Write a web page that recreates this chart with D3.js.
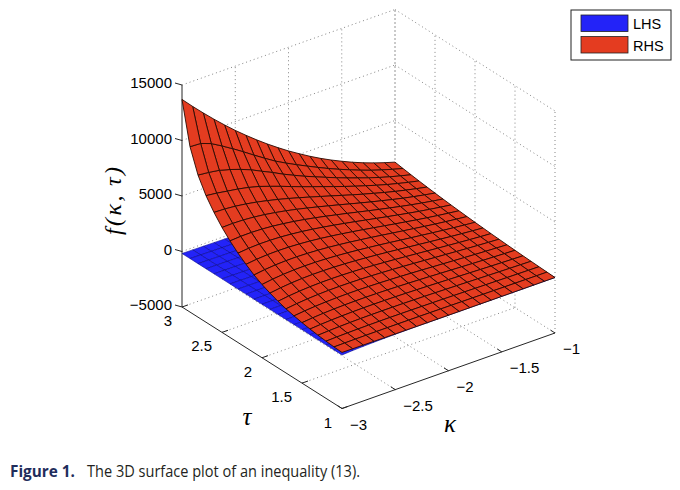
<!DOCTYPE html>
<meta charset="utf-8">
<head>
	<title>3D surface plot</title>
</head>

<style>
body { margin: 0; background: #fff; }
svg text { font-family: "Liberation Sans", Arial, sans-serif; fill: #000; }
</style>

<body>
	<svg width="680" height="490"></svg>

	<script src="https://d3js.org/d3.v7.min.js"></script>
	<script>
// grid of the surfaces
var kappa = [-3, -2.9, -2.8, -2.7, -2.6, -2.5, -2.4, -2.3, -2.2, -2.1, -2, -1.9, -1.8, -1.7, -1.6, -1.5, -1.4, -1.3, -1.2, -1.1, -1];
var tau = [1, 1.1, 1.2, 1.3, 1.4, 1.5, 1.6, 1.7, 1.8, 1.9, 2, 2.1, 2.2, 2.3, 2.4, 2.5, 2.6, 2.7, 2.8, 2.9, 3];

var zTicks = [-5000, 0, 5000, 10000, 15000];
var kappaTicks = [-3, -2.5, -2, -1.5, -1];
var tauTicks = [1, 1.5, 2, 2.5, 3];
var seriesNames = ['LHS', 'RHS'];

// rows follow tau, columns follow kappa
var rhs = [
	[50, 42, 35, 29, 23, 19, 15, 12, 9, 7, 5, 4, 3, 2, 1, 1, 0, 0, 0, 0, 0],
	[90, 103, 113, 120, 123, 124, 123, 121, 116, 111, 104, 97, 89, 81, 73, 65, 57, 49, 41, 34, 28],
	[150, 183, 209, 227, 238, 244, 245, 241, 234, 225, 212, 199, 183, 167, 150, 134, 117, 101, 86, 71, 58],
	[230, 283, 324, 352, 371, 380, 382, 377, 367, 352, 333, 312, 287, 262, 236, 210, 183, 158, 134, 112, 91],
	[330, 402, 456, 495, 519, 531, 533, 525, 510, 489, 462, 432, 398, 363, 327, 291, 254, 219, 186, 155, 126],
	[450, 540, 608, 656, 685, 699, 700, 689, 668, 639, 603, 564, 520, 473, 426, 379, 331, 285, 242, 202, 164],
	[600, 706, 785, 839, 871, 884, 883, 866, 838, 801, 755, 705, 649, 590, 531, 472, 412, 355, 301, 251, 204],
	[780, 900, 989, 1049, 1083, 1094, 1088, 1065, 1028, 980, 923, 861, 791, 719, 646, 574, 501, 431, 366, 305, 248],
	[1000, 1132, 1227, 1289, 1322, 1329, 1316, 1284, 1236, 1176, 1105, 1029, 945, 858, 770, 684, 597, 513, 436, 363, 295],
	[1280, 1417, 1514, 1573, 1601, 1599, 1576, 1531, 1469, 1394, 1307, 1215, 1114, 1010, 906, 804, 701, 603, 511, 426, 346],
	[1600, 1740, 1836, 1890, 1910, 1898, 1861, 1802, 1724, 1632, 1527, 1417, 1297, 1174, 1053, 933, 813, 699, 593, 493, 401],
	[2000, 2135, 2222, 2265, 2271, 2242, 2188, 2109, 2012, 1899, 1772, 1641, 1499, 1356, 1214, 1075, 936, 804, 682, 567, 461],
	[2500, 2617, 2684, 2705, 2687, 2634, 2556, 2452, 2328, 2190, 2038, 1882, 1716, 1549, 1385, 1225, 1065, 915, 775, 645, 524],
	[3050, 3147, 3192, 3188, 3145, 3065, 2959, 2827, 2675, 2509, 2329, 2147, 1954, 1761, 1573, 1389, 1207, 1036, 878, 730, 593],
	[3700, 3765, 3778, 3741, 3664, 3549, 3409, 3243, 3058, 2859, 2647, 2435, 2212, 1990, 1775, 1567, 1360, 1166, 988, 821, 667],
	[4450, 4474, 4445, 4366, 4247, 4091, 3911, 3705, 3481, 3245, 2997, 2750, 2493, 2240, 1995, 1759, 1526, 1307, 1107, 919, 747],
	[5350, 5314, 5227, 5091, 4917, 4708, 4478, 4223, 3953, 3672, 3382, 3095, 2800, 2512, 2233, 1966, 1704, 1459, 1235, 1025, 833],
	[6400, 6287, 6127, 5980, 5780, 5530, 5200, 4860, 4500, 4145, 3806, 3475, 3137, 2808, 2493, 2192, 1898, 1623, 1373, 1140, 926],
	[7800, 7700, 7550, 7280, 6950, 6570, 6100, 5650, 5160, 4720, 4290, 3903, 3513, 3136, 2779, 2439, 2108, 1801, 1522, 1263, 1026],
	[9900, 9850, 9500, 8950, 8360, 7740, 7100, 6480, 5880, 5363, 4874, 4410, 3950, 3512, 3100, 2713, 2340, 1995, 1684, 1397, 1134],
	[13700, 12730, 11800, 10900, 10040, 9210, 8430, 7680, 6970, 6300, 5660, 5070, 4500, 3970, 3480, 3030, 2600, 2210, 1860, 1540, 1250]
];

var lhs = [
	[-180, -120, -80, -50, -30, -15, -5, 0, 0, 0, -2, -2, -2, -3, -3, -4, -5, -5, -6, -6, -8],
	[-180, -173, -166, -159, -152, -146, -139, -132, -125, -118, -111, -104, -97, -90, -83, -77, -70, -63, -56, -49, -42],
	[-180, -174, -168, -163, -157, -151, -145, -139, -134, -128, -122, -116, -110, -105, -99, -93, -87, -81, -76, -70, -64],
	[-180, -175, -171, -166, -161, -157, -152, -147, -142, -138, -133, -128, -124, -119, -114, -110, -105, -100, -95, -91, -86],
	[-180, -176, -173, -169, -166, -162, -158, -155, -151, -148, -144, -140, -137, -133, -130, -126, -122, -119, -115, -112, -108],
	[-180, -178, -175, -173, -170, -168, -165, -163, -160, -158, -155, -153, -150, -148, -145, -143, -140, -138, -135, -133, -130],
	[-180, -179, -177, -176, -174, -173, -172, -170, -169, -167, -166, -165, -163, -162, -160, -159, -158, -156, -155, -153, -152],
	[-180, -180, -179, -179, -179, -179, -178, -178, -178, -177, -177, -177, -176, -176, -176, -176, -175, -175, -175, -174, -174],
	[-180, -181, -182, -182, -183, -184, -185, -186, -186, -187, -188, -189, -190, -190, -191, -192, -193, -194, -194, -195, -196],
	[-180, -182, -184, -186, -188, -190, -191, -193, -195, -197, -199, -201, -203, -205, -207, -209, -210, -212, -214, -216, -218],
	[-180, -183, -186, -189, -192, -195, -198, -201, -204, -207, -210, -213, -216, -219, -222, -225, -228, -231, -234, -237, -240],
	[-180, -184, -188, -192, -196, -201, -205, -209, -213, -217, -221, -225, -229, -233, -237, -242, -246, -250, -254, -258, -262],
	[-180, -185, -190, -196, -201, -206, -211, -216, -222, -227, -232, -237, -242, -248, -253, -258, -263, -268, -274, -279, -284],
	[-180, -186, -193, -199, -205, -212, -218, -224, -230, -237, -243, -249, -256, -262, -268, -275, -281, -287, -293, -300, -306],
	[-180, -187, -195, -202, -210, -217, -224, -232, -239, -247, -254, -261, -269, -276, -284, -291, -298, -306, -313, -321, -328],
	[-180, -189, -197, -206, -214, -223, -231, -240, -248, -257, -265, -274, -282, -291, -299, -308, -316, -325, -333, -342, -350],
	[-180, -190, -199, -209, -218, -228, -238, -247, -257, -266, -276, -286, -295, -305, -314, -324, -334, -343, -353, -362, -372],
	[-180, -191, -201, -212, -223, -234, -244, -255, -266, -276, -287, -298, -308, -319, -330, -341, -351, -362, -373, -383, -394],
	[-180, -192, -204, -215, -227, -239, -251, -263, -274, -286, -298, -310, -322, -333, -345, -357, -369, -381, -392, -404, -416],
	[-180, -193, -206, -219, -232, -245, -257, -270, -283, -296, -309, -322, -335, -348, -361, -374, -386, -399, -412, -425, -438],
	[-180, -194, -208, -222, -236, -250, -264, -278, -292, -306, -320, -334, -348, -362, -376, -390, -404, -418, -432, -446, -460]
];

var svg = d3.select('svg');

// unit box scales
var su = d3.scaleLinear().domain([-3, -1]).range([0, 1]);
var sv = d3.scaleLinear().domain([1, 3]).range([0, 1]);
var sw = d3.scaleLinear().domain([-5000, 15000]).range([0, 1]);

// screen directions of the three box edges (orthographic view)
var origin = [342, 408.5];
var ex = [213, -75.5], ey = [-160, -101.5], ez = 222;

function proj(k, t, z) {
	var a = su(k), b = sv(t), c = sw(z);
	return [origin[0] + a * ex[0] + b * ey[0], origin[1] + a * ex[1] + b * ey[1] - c * ez];
}
function depth(k, t, z) {
	return -0.528 * su(k) - 0.704 * sv(t) + 0.456 * sw(z);
}

var line = d3.line();

// dotted grid on the floor and the two back walls
var zmin = -5000, zmax = 15000;
var grid = [];
kappaTicks.slice(1).forEach(function(k) {
	grid.push([[k, 1, zmin], [k, 3, zmin]]);
	grid.push([[k, 3, zmin], [k, 3, zmax]]);
});
tauTicks.slice(1).forEach(function(t) {
	grid.push([[-3, t, zmin], [-1, t, zmin]]);
});
tauTicks.forEach(function(t) {
	grid.push([[-1, t, zmin], [-1, t, zmax]]);
});
zTicks.slice(1).forEach(function(z) {
	grid.push([[-3, 3, z], [-1, 3, z]]);
	grid.push([[-1, 3, z], [-1, 1, z]]);
});

svg.append('g')
	.selectAll('path')
	.data(grid)
	.enter()
	.append('path')
	.attr('d', function(d) {return line(d.map(function(p) {return proj(p[0], p[1], p[2]);}));})
	.style('fill', 'none')
	.style('stroke', '#858585')
	.style('stroke-width', 1)
	.style('stroke-dasharray', '1,3');

// solid axes
var axes = [
	[[-3, 3, zmin], [-3, 3, zmax]],
	[[-3, 3, zmin], [-3, 1, zmin]],
	[[-3, 1, zmin], [-1, 1, zmin]]
];
svg.append('g')
	.selectAll('path')
	.data(axes)
	.enter()
	.append('path')
	.attr('d', function(d) {return line(d.map(function(p) {return proj(p[0], p[1], p[2]);}));})
	.style('fill', 'none')
	.style('stroke', '#262626')
	.style('stroke-width', 1);

// ticks and tick labels
var gt = svg.append('g');
zTicks.forEach(function(z) {
	var p = proj(-3, 3, z);
	gt.append('line')
		.attr('x1', p[0]).attr('y1', p[1])
		.attr('x2', p[0] - 7).attr('y2', p[1] - 2)
		.style('stroke', '#262626');
	gt.append('text')
		.attr('x', 172).attr('y', p[1] + 3)
		.attr('text-anchor', 'end')
		.style('font-size', '15px')
		.text(d3.format('d')(z).replace('-', '\u2212'));
});
tauTicks.forEach(function(t) {
	var p = proj(-3, t, zmin);
	gt.append('line')
		.attr('x1', p[0]).attr('y1', p[1])
		.attr('x2', p[0] + 6).attr('y2', p[1] - 2.1)
		.style('stroke', '#262626');
	gt.append('text')
		.attr('x', p[0] - 10).attr('y', p[1] + 19)
		.attr('text-anchor', 'end')
		.style('font-size', '15px')
		.text(t);
});
kappaTicks.forEach(function(k) {
	var p = proj(k, 1, zmin);
	gt.append('line')
		.attr('x1', p[0]).attr('y1', p[1])
		.attr('x2', p[0] - 4.5).attr('y2', p[1] - 2.9)
		.style('stroke', '#262626');
	gt.append('text')
		.attr('x', p[0] + 8).attr('y', p[1] + 21)
		.attr('text-anchor', 'start')
		.style('font-size', '15px')
		.text(String(k).replace('-', '\u2212'));
});

// axis labels
var serif = '"Liberation Serif", "Times New Roman", serif';
svg.append('text')
	.attr('x', 247).attr('y', 425)
	.attr('text-anchor', 'middle')
	.style('font-family', serif)
	.style('font-style', 'italic')
	.style('font-size', '25px')
	.text('\u03c4');
svg.append('text')
	.attr('x', 450).attr('y', 432)
	.attr('text-anchor', 'middle')
	.style('font-family', serif)
	.style('font-style', 'italic')
	.style('font-size', '25px')
	.text('\u03ba');
svg.append('text')
	.attr('transform', 'translate(121,201) rotate(-90)')
	.attr('text-anchor', 'middle')
	.attr('textLength', 68)
	.attr('lengthAdjust', 'spacing')
	.style('font-family', serif)
	.style('font-style', 'italic')
	.style('font-size', '24px')
	.text('f(\u03ba,\u2009\u03c4)');

// surface cells, painted back to front
var surfaces = [
	{name: 'LHS', z: lhs, fill: '#2323f8', stroke: '#0a0a90', width: 0.6},
	{name: 'RHS', z: rhs, fill: '#e43c20', stroke: '#2a0a02', width: 0.9}
];
var cells = [];
surfaces.forEach(function(s) {
	for (var j = 0; j < tau.length - 1; j++) {
		for (var i = 0; i < kappa.length - 1; i++) {
			var c = [[i, j], [i + 1, j], [i + 1, j + 1], [i, j + 1]];
			var dsum = 0;
			var pts = c.map(function(q) {
				var k = kappa[q[0]], t = tau[q[1]], z = s.z[q[1]][q[0]];
				dsum += depth(k, t, z);
				return proj(k, t, z);
			});
			cells.push({pts: pts, depth: dsum / 4, s: s});
		}
	}
});
cells.sort(function(a, b) {return a.depth - b.depth;});

svg.append('g')
	.selectAll('path')
	.data(cells)
	.enter()
	.append('path')
	.attr('d', function(d) {return line(d.pts) + 'Z';})
	.style('fill', function(d) {return d.s.fill;})
	.style('stroke', function(d) {return d.s.stroke;})
	.style('stroke-width', function(d) {return d.s.width;})
	.style('stroke-linejoin', 'round');

// legend
var lg = svg.append('g');
lg.append('rect')
	.attr('x', 571).attr('y', 10).attr('width', 100).attr('height', 50)
	.style('fill', '#fff').style('stroke', '#222').style('stroke-width', 1);
surfaces.forEach(function(s, n) {
	lg.append('rect')
		.attr('x', 581).attr('y', 15 + n * 21.5).attr('width', 47).attr('height', 16.5)
		.style('fill', s.fill).style('stroke', '#222').style('stroke-width', 0.8);
	lg.append('text')
		.attr('x', 633).attr('y', 29 + n * 21.5)
		.style('font-size', '14.5px')
		.text(seriesNames[n]);
});

// caption
svg.append('text')
	.attr('x', 10).attr('y', 477)
	.attr('textLength', 65).attr('lengthAdjust', 'spacingAndGlyphs')
	.style('font-family', '"Open Sans", sans-serif')
	.style('font-weight', 'bold')
	.style('font-size', '15.5px')
	.style('fill', '#1f2d5c')
	.text('Figure 1.');
svg.append('text')
	.attr('x', 87).attr('y', 477)
	.attr('textLength', 273).attr('lengthAdjust', 'spacingAndGlyphs')
	.style('font-family', '"Open Sans", sans-serif')
	.style('font-size', '15.5px')
	.style('fill', '#231f20')
	.text('The 3D surface plot of an inequality (13).');
	</script>
</body>
</html>
